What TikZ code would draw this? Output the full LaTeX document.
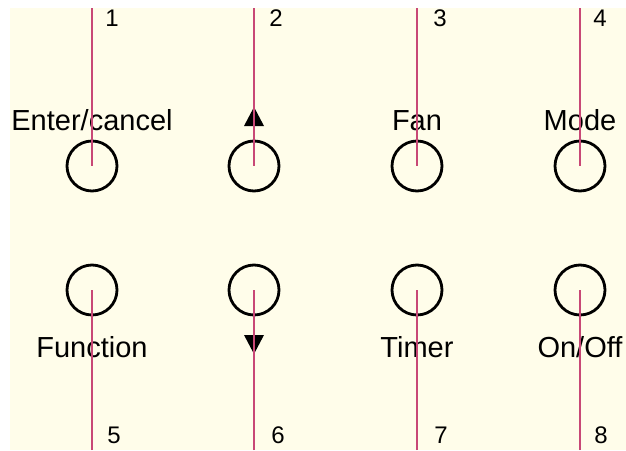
\documentclass[tikz,border=0pt]{standalone}
\usepackage{fontspec}
\setmainfont{Liberation Sans}
\usepackage{xcolor}
\definecolor{panel}{RGB}{255,253,234}
\definecolor{wire}{RGB}{200,72,118}

\begin{document}
\begin{tikzpicture}[x=1pt,y=-1pt,
  key/.style={circle,draw=black,line width=2.8pt,minimum size=50pt,inner sep=0pt},
  lbl/.style={font=\fontsize{29}{34}\selectfont,anchor=base,inner sep=0pt},
  num/.style={font=\fontsize{24}{28}\selectfont,inner sep=0pt},
  lead/.style={wire,line width=1.8pt},
  tri/.style={fill=black}]
\useasboundingbox (0,0) rectangle (626,450);
% background panel
\fill[white] (0,0) rectangle (626,450);
\fill[panel] (10,8) rectangle (626,450);
% upper row of keys
\node[key] (k1) at (92,166) {};
\node[key] (k2) at (254,166) {};
\node[key] (k3) at (417,166) {};
\node[key] (k4) at (580,166) {};
\node[lbl] (t1) at (92,130) {Enter/cancel};
\node[lbl] (t3) at (417,130) {Fan};
\node[lbl] (t4) at (580,130) {Mode};
\fill[tri] (254,107) -- (264,126) -- (244,126) -- cycle;
% lower row of keys
\node[key] (k5) at (92,290) {};
\node[key] (k6) at (254,290) {};
\node[key] (k7) at (417,290) {};
\node[key] (k8) at (580,290) {};
\node[lbl] (t5) at (92,357) {Function};
\node[lbl] (t7) at (417,357) {Timer};
\node[lbl] (t8) at (580,357) {On/Off};
\fill[tri] (244,335) -- (264,335) -- (254,354) -- cycle;
% lead ends
\coordinate (e1) at (92,8);
\coordinate (e2) at (254,8);
\coordinate (e3) at (417,8);
\coordinate (e4) at (580,8);
\coordinate (e5) at (92,450);
\coordinate (e6) at (254,450);
\coordinate (e7) at (417,450);
\coordinate (e8) at (580,450);
% leads into the keys
\draw[lead] (e1) -- (k1.center);
\draw[lead] (e2) -- (k2.center);
\draw[lead] (e3) -- (k3.center);
\draw[lead] (e4) -- (k4.center);
\draw[lead] (e5) -- (k5.center);
\draw[lead] (e6) -- (k6.center);
\draw[lead] (e7) -- (k7.center);
\draw[lead] (e8) -- (k8.center);
% lead numbers
\node[num] (n1) at (112,18) {1};
\node[num] (n2) at (276,18) {2};
\node[num] (n3) at (440,18) {3};
\node[num] (n4) at (600,18) {4};
\node[num] (n5) at (114,435) {5};
\node[num] (n6) at (278,435) {6};
\node[num] (n7) at (441,435) {7};
\node[num] (n8) at (601,435) {8};
\end{tikzpicture}
\end{document}
